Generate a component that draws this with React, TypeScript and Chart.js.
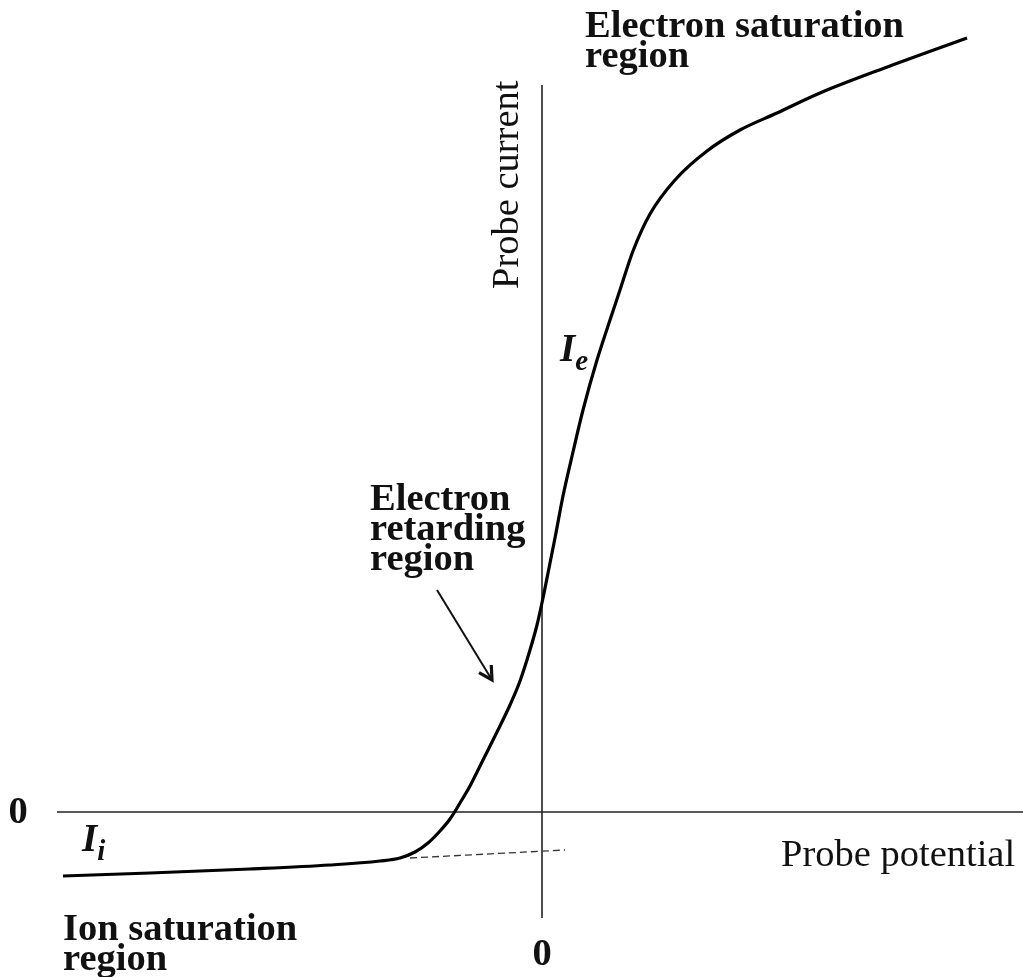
import React, { useEffect, useRef } from "react";
import { Chart, registerables } from "chart.js";

Chart.register(...registerables);

// Probe potential (arbitrary units, 0 = vertical axis) and probe current (arbitrary units)
const potential = [
  -4.79, -3.92, -2.92, -2.12, -1.62, -1.42, -1.27, -1.14, -1.02, -0.92, -0.82,
  -0.72, -0.59, -0.45, -0.32, -0.22, -0.12, -0.05, 0.01, 0.07, 0.13, 0.21, 0.31,
  0.41, 0.55, 0.68, 0.78, 0.91, 1.08, 1.33, 1.65, 1.98, 2.35, 2.78, 3.48, 4.25,
];
const current = [
  -0.64, -0.61, -0.57, -0.53, -0.49, -0.46, -0.4, -0.31, -0.19, -0.07, 0.09,
  0.26, 0.52, 0.8, 1.07, 1.31, 1.62, 1.87, 2.14, 2.44, 2.74, 3.16, 3.6, 4.02,
  4.52, 4.92, 5.22, 5.61, 5.98, 6.32, 6.61, 6.82, 6.99, 7.19, 7.46, 7.74,
];
// Extrapolated ion saturation current (dashed)
const ionFitPotential = [-1.32, 0.23];
const ionFitCurrent = [-0.46, -0.38];

const xRange = [-5.42, 4.81];
const yRange = [-1.65, 8.12];
const xTickLabels = ["0"];
const yTickLabels = ["0"];

const SERIF = "'Liberation Serif', 'Times New Roman', serif";

const annotate = {
  id: "annotate",
  beforeDatasetsDraw(chart: any) {
    const { ctx } = chart;
    const xs = chart.scales.x;
    const ys = chart.scales.y;
    ctx.save();
    ctx.strokeStyle = "#222";
    ctx.lineWidth = 1.6;
    // horizontal axis (current = 0)
    ctx.beginPath();
    ctx.moveTo(xs.getPixelForValue(-4.85), ys.getPixelForValue(0));
    ctx.lineTo(xs.getPixelForValue(xRange[1]), ys.getPixelForValue(0));
    ctx.stroke();
    // vertical axis (potential = 0)
    ctx.beginPath();
    ctx.moveTo(xs.getPixelForValue(0), ys.getPixelForValue(7.27));
    ctx.lineTo(xs.getPixelForValue(0), ys.getPixelForValue(-1.06));
    ctx.stroke();
    ctx.restore();
  },
  afterDatasetsDraw(chart: any) {
    const { ctx } = chart;
    const xs = chart.scales.x;
    const ys = chart.scales.y;
    const X = (v: number) => xs.getPixelForValue(v);
    const Y = (v: number) => ys.getPixelForValue(v);
    ctx.save();
    ctx.fillStyle = "#111";
    ctx.textBaseline = "alphabetic";
    ctx.textAlign = "left";

    const bold = `bold 38.5px ${SERIF}`;
    const reg = `38.5px ${SERIF}`;

    const lines = (arr: string[], x: number, y0: number, dy: number) => {
      arr.forEach((s, i) => ctx.fillText(s, X(x), Y(y0 - i * dy)));
    };

    ctx.font = bold;
    lines(["Electron saturation", "region"], 0.43, 7.75, 0.3);
    lines(["Electron", "retarding", "region"], -1.72, 3.02, 0.3);
    lines(["Ion saturation", "region"], -4.79, -1.28, 0.3);

    // tick labels
    ctx.textAlign = "center";
    ctx.fillText(yTickLabels[0], X(-5.24), Y(-0.11));
    ctx.fillText(xTickLabels[0], X(0), Y(-1.53));

    // axis titles
    ctx.font = reg;
    ctx.textAlign = "left";
    ctx.fillText("Probe potential", X(2.39), Y(-0.54));
    ctx.save();
    ctx.translate(X(-0.24), Y(5.23));
    ctx.rotate(-Math.PI / 2);
    ctx.fillText("Probe current", 0, 0);
    ctx.restore();

    // I_i and I_e
    const sym = (sub: string, x: number, y: number) => {
      ctx.font = `italic bold 39px ${SERIF}`;
      ctx.fillText("I", X(x), Y(y));
      const w = ctx.measureText("I").width;
      ctx.font = `italic bold 29px ${SERIF}`;
      ctx.fillText(sub, X(x) + w, Y(y) + 9);
    };
    sym("i", -4.6, -0.39);
    sym("e", 0.18, 4.51);

    // arrow
    const x1 = X(-1.05), y1 = Y(2.22);
    const x2 = X(-0.5), y2 = Y(1.32);
    ctx.strokeStyle = "#111";
    ctx.lineWidth = 2;
    ctx.beginPath();
    ctx.moveTo(x1, y1);
    ctx.lineTo(x2, y2);
    ctx.stroke();
    const ang = Math.atan2(y2 - y1, x2 - x1);
    const len = 15;
    ctx.lineWidth = 3.2;
    ctx.lineJoin = "miter";
    ctx.beginPath();
    ctx.moveTo(x2 - len * Math.cos(ang - 0.5), y2 - len * Math.sin(ang - 0.5));
    ctx.lineTo(x2, y2);
    ctx.lineTo(x2 - len * Math.cos(ang + 0.5), y2 - len * Math.sin(ang + 0.5));
    ctx.stroke();
    ctx.restore();
  },
};

export default function App() {
  const ref = useRef<HTMLCanvasElement | null>(null);
  useEffect(() => {
    if (!ref.current) return;
    const chart = new Chart(ref.current, {
      type: "line",
      data: {
        datasets: [
          {
            label: "Probe current",
            data: potential.map((x, i) => ({ x, y: current[i] })),
            borderColor: "#000",
            borderWidth: 3.2,
            pointRadius: 0,
            cubicInterpolationMode: "monotone",
            fill: false,
          },
          {
            label: "Ion saturation extrapolation",
            data: ionFitPotential.map((x, i) => ({ x, y: ionFitCurrent[i] })),
            borderColor: "#333",
            borderWidth: 1.3,
            borderDash: [7, 4],
            pointRadius: 0,
            fill: false,
          },
        ],
      },
      options: {
        animation: false,
        responsive: false,
        maintainAspectRatio: false,
        layout: { padding: 0 },
        plugins: {
          legend: { display: false },
          tooltip: { enabled: false },
          title: { display: false },
        },
        scales: {
          x: { type: "linear", min: xRange[0], max: xRange[1], display: false },
          y: { type: "linear", min: yRange[0], max: yRange[1], display: false },
        },
      },
      plugins: [annotate],
    });
    return () => chart.destroy();
  }, []);
  return (
    <div
      style={{
        position: "fixed",
        left: 0,
        top: 0,
        width: 1023,
        height: 977,
        background: "#fff",
      }}
    >
      <canvas ref={ref} width={1023} height={977} style={{ display: "block" }} />
    </div>
  );
}
